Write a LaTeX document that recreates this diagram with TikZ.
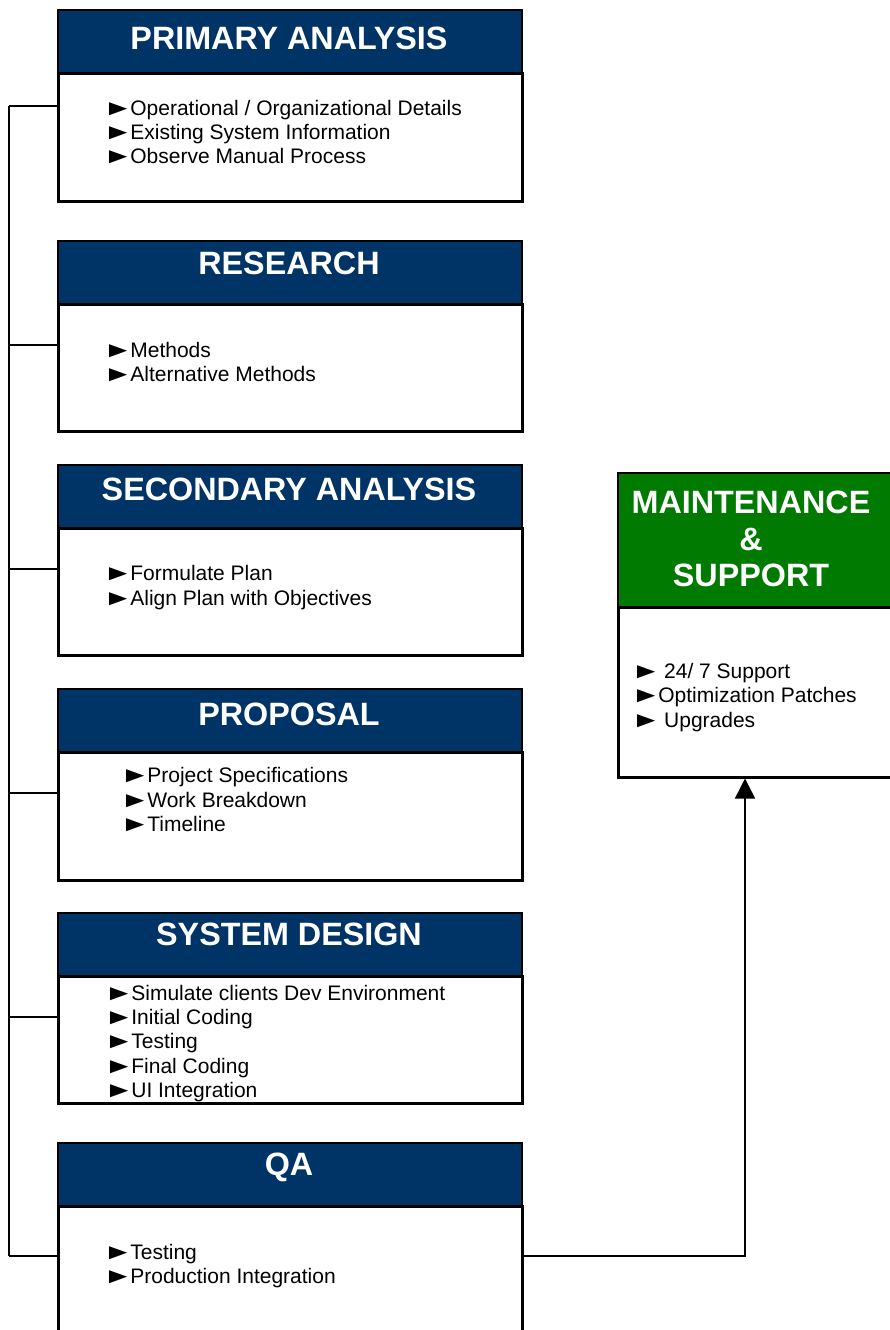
\documentclass[tikz,border=0pt]{standalone}
\usepackage{fontspec}
\setmainfont{Liberation Sans}
\newcommand\bul{\kern-7pt\scalebox{1.45}[1.05]{►}\kern-3pt}
\usetikzlibrary{arrows.meta}
\definecolor{navy}{RGB}{0,51,102}
\definecolor{mgreen}{RGB}{0,122,0}
\begin{document}
\begin{tikzpicture}[x=1pt,y=-1pt,
  hdr/.style={draw=black,line width=2.2pt,fill=navy,minimum width=464pt,minimum height=63pt,anchor=north west,inner sep=0pt},
  bodybox/.style={draw=black,line width=2.5pt,fill=white,minimum width=464pt,anchor=north west,inner sep=0pt},
  ttl/.style={text=white,font=\fontsize{32.3}{36}\selectfont\bfseries,anchor=base,inner sep=0pt},
  item/.style={font=\fontsize{21}{24}\selectfont,anchor=base west,inner sep=0pt},
  conn/.style={draw=black,line width=1.5pt}
]
\useasboundingbox (0,0) rectangle (889,1330);
\fill[white] (0,0) rectangle (889,1330);

% --- boxes: bodies
\node[bodybox,minimum height=128pt] (b1) at (57,72) {};
\node[bodybox,minimum height=127pt] (b2) at (57,303) {};
\node[bodybox,minimum height=127pt] (b3) at (57,527) {};
\node[bodybox,minimum height=128pt] (b4) at (57,751) {};
\node[bodybox,minimum height=127pt] (b5) at (57,975) {};
\node[bodybox,minimum height=140pt] (b6) at (57,1205) {};
% --- headers
\node[hdr] (h1) at (57,9) {};
\node[hdr] (h2) at (57,240) {};
\node[hdr] (h3) at (57,464) {};
\node[hdr] (h4) at (57,688) {};
\node[hdr] (h5) at (57,912) {};
\node[hdr] (h6) at (57,1142) {};
% --- titles
\node[ttl] (t1) at (289,50) {PRIMARY ANALYSIS};
\node[ttl] (t2) at (289,274) {RESEARCH};
\node[ttl] (t3) at (289,500) {SECONDARY ANALYSIS};
\node[ttl] (t4) at (289,725) {PROPOSAL};
\node[ttl] (t5) at (289,945) {SYSTEM DESIGN};
\node[ttl] (t6) at (289,1175) {QA};

% --- items
\node[item] (i11) at (110,115) {\bul Operational / Organizational Details};
\node[item] (i12) at (110,139) {\bul Existing System Information};
\node[item] (i13) at (110,163) {\bul Observe Manual Process};

\node[item] (i21) at (110,357) {\bul Methods};
\node[item] (i22) at (110,381) {\bul Alternative Methods};

\node[item] (i31) at (110,580) {\bul Formulate Plan};
\node[item] (i32) at (110,605) {\bul Align Plan with Objectives};

\node[item] (i41) at (127,782) {\bul Project Specifications};
\node[item] (i42) at (127,807) {\bul Work Breakdown};
\node[item] (i43) at (127,831) {\bul Timeline};

\node[item] (i51) at (111,1000) {\bul Simulate clients Dev Environment};
\node[item] (i52) at (111,1024) {\bul Initial Coding};
\node[item] (i53) at (111,1048) {\bul Testing};
\node[item] (i54) at (111,1073) {\bul Final Coding};
\node[item] (i55) at (111,1097) {\bul UI Integration};

\node[item] (i61) at (110,1259) {\bul Testing};
\node[item] (i62) at (110,1283) {\bul Production Integration};

% --- maintenance box
\node[draw=black,line width=2.5pt,fill=white,minimum width=276pt,minimum height=170pt,anchor=north west,inner sep=0pt] (mb) at (617,606) {};
\node[draw=black,line width=2.2pt,fill=mgreen,minimum width=276pt,minimum height=134pt,anchor=north west,inner sep=0pt] (mh) at (617,472) {};
\node[ttl] (mt1) at (751,513) {MAINTENANCE};
\node[ttl] (mt2) at (751,550) {\&};
\node[ttl] (mt3) at (751,586) {SUPPORT};
\node[item] (mi1) at (638,678) {\bul\ 24/ 7 Support};
\node[item] (mi2) at (638,702.5) {\bul Optimization Patches};
\node[item] (mi3) at (638,727) {\bul\ Upgrades};

% --- connectors
\coordinate (c1) at (9,106);
\coordinate (c2) at (9,345);
\coordinate (c3) at (9,569);
\coordinate (c4) at (9,793);
\coordinate (c5) at (9,1017);
\coordinate (c6) at (9,1256);
\coordinate (ma) at (745,0);
\draw[conn] (c1) -- (c6);
\draw[conn] (c1) -- (b1.west |- c1);
\draw[conn] (c2) -- (b2.west |- c2);
\draw[conn] (c3) -- (b3.west |- c3);
\draw[conn] (c4) -- (b4.west |- c4);
\draw[conn] (c5) -- (b5.west |- c5);
\draw[conn] (c6) -- (b6.west |- c6);
\draw[conn,-{Triangle[width=20pt,length=20pt]}] (b6.east |- c6) -| (ma |- mb.south);
\end{tikzpicture}
\end{document}
